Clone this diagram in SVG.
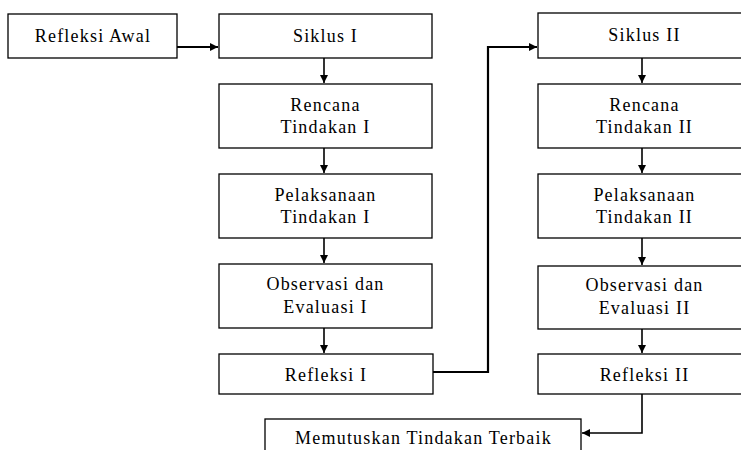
<svg xmlns="http://www.w3.org/2000/svg" width="741" height="450" viewBox="0 0 741 450">
<style>
.box{fill:#fff;stroke:#000;stroke-width:1.3}
.t{font-family:"Liberation Serif","Times New Roman",serif;font-size:18px;letter-spacing:1.2px;fill:#000;text-anchor:middle}
.c{fill:none;stroke:#000;stroke-width:1.6}
.ct{fill:none;stroke:#000;stroke-width:2.2}
</style>
<defs>
<marker id="ah" markerUnits="userSpaceOnUse" markerWidth="9" markerHeight="8" refX="8" refY="4" orient="auto">
<path d="M0,0 L8,4 L0,8 Z" fill="#000"/>
</marker>
</defs>
<rect width="741" height="450" fill="#fff"/>
<g id="connectors">
<path class="ct" d="M177,47 H218" marker-end="url(#ah)"/>
<path class="c" d="M324,58 V83" marker-end="url(#ah)"/>
<path class="c" d="M324,148 V173" marker-end="url(#ah)"/>
<path class="c" d="M324,238 V263" marker-end="url(#ah)"/>
<path class="c" d="M324,328 V353" marker-end="url(#ah)"/>
<path class="ct" d="M433,372 H488 V47 H537" marker-end="url(#ah)"/>
<path class="c" d="M642,58 V83" marker-end="url(#ah)"/>
<path class="c" d="M642,148 V173" marker-end="url(#ah)"/>
<path class="c" d="M642,238 V265" marker-end="url(#ah)"/>
<path class="c" d="M642,329 V353" marker-end="url(#ah)"/>
<path class="c" d="M642,394 V433 H582" marker-end="url(#ah)"/>
</g>
<g id="refleksi-awal"><rect class="box" x="8" y="14" width="169" height="44"/><text class="t" x="93" y="42">Refleksi Awal</text></g>
<g id="siklus-1"><rect class="box" x="219" y="14" width="213" height="44"/><text class="t" x="325.5" y="42">Siklus I</text></g>
<g id="rencana-1"><rect class="box" x="219" y="84" width="213" height="64"/><text class="t" x="325.5" y="111">Rencana</text><text class="t" x="325.5" y="133">Tindakan I</text></g>
<g id="pelaksanaan-1"><rect class="box" x="219" y="174" width="213" height="64"/><text class="t" x="325.5" y="201">Pelaksanaan</text><text class="t" x="325.5" y="223">Tindakan I</text></g>
<g id="observasi-1"><rect class="box" x="219" y="264" width="213" height="64"/><text class="t" x="325.5" y="290">Observasi dan</text><text class="t" x="325.5" y="313">Evaluasi I</text></g>
<g id="refleksi-1"><rect class="box" x="219" y="354" width="214" height="40"/><text class="t" x="326" y="381">Refleksi I</text></g>
<g id="siklus-2"><rect class="box" x="538" y="13" width="213" height="45"/><text class="t" x="644.5" y="41">Siklus II</text></g>
<g id="rencana-2"><rect class="box" x="538" y="84" width="213" height="64"/><text class="t" x="644.5" y="111">Rencana</text><text class="t" x="644.5" y="133">Tindakan II</text></g>
<g id="pelaksanaan-2"><rect class="box" x="538" y="174" width="213" height="64"/><text class="t" x="644.5" y="201">Pelaksanaan</text><text class="t" x="644.5" y="223">Tindakan II</text></g>
<g id="observasi-2"><rect class="box" x="538" y="266" width="213" height="63"/><text class="t" x="644.5" y="291">Observasi dan</text><text class="t" x="644.5" y="314">Evaluasi II</text></g>
<g id="refleksi-2"><rect class="box" x="538" y="354" width="213" height="40"/><text class="t" x="644.5" y="381">Refleksi II</text></g>
<g id="memutuskan"><rect class="box" x="265" y="419" width="316" height="45"/><text class="t" x="423.5" y="444">Memutuskan Tindakan Terbaik</text></g>
</svg>
